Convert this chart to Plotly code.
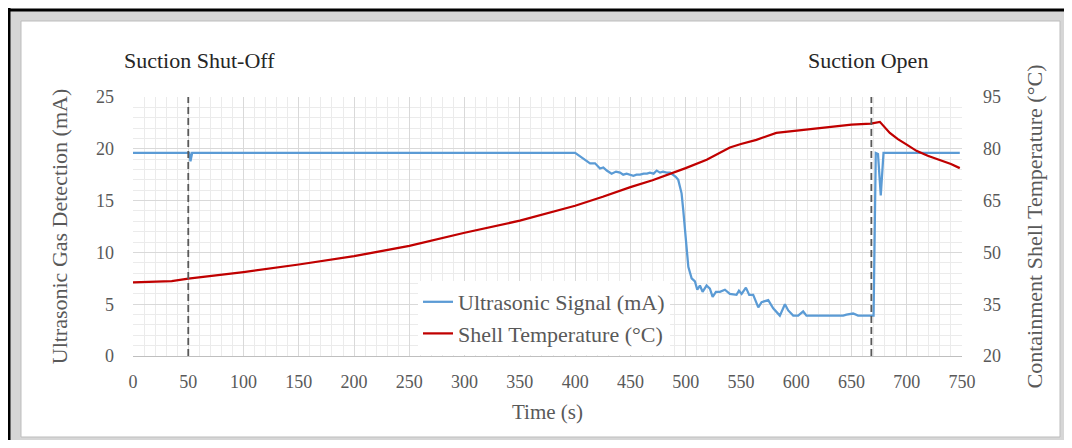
import plotly.graph_objects as go

# ---------------- data ----------------
signal_time = [0, 50, 51, 52, 53.5, 400, 401.4, 406, 410, 413.5, 418, 422.5, 425.5, 428.6, 433.0,
               437, 440.6, 443.5, 446.6, 449.5, 452.7, 455.5, 458.7, 462, 465, 467.7, 471, 473.8,
               476.8, 479.5, 482.8, 486, 488.8, 491, 493.3, 496.3, 497.8, 499.3, 500.9, 502.4,
               505.4, 508.4, 510.5, 512.9, 515.3, 518.9, 521.9, 524.4, 527.4, 531.0, 535.5,
               540.0, 546.0, 548.2, 550.6, 554.5, 557.5, 561.1, 565.7, 568.7, 574.7, 579.2,
               585.2, 589.8, 592.8, 597.3, 601.8, 606.3, 609.3, 642.5, 645.5, 651.5, 656.0,
               669.0, 670.0, 672.0, 674.0, 676.5, 679.0, 748.0]
signal_mA = [19.6, 19.6, 19.6, 18.8, 19.6, 19.6, 19.5, 19.1, 18.9, 18.6, 18.6, 18.1, 18.2, 17.9, 17.6,
             17.8, 17.7, 17.5, 17.6, 17.5, 17.4, 17.5, 17.5, 17.6, 17.6, 17.7, 17.6, 17.9,
             17.7, 17.8, 17.7, 17.7, 17.5, 17.3, 17.0, 15.7, 14.1, 12.5, 10.4, 8.6,
             7.5, 7.2, 6.4, 6.8, 6.2, 6.8, 6.5, 5.7, 6.2, 6.2, 6.4,
             6.0, 5.9, 6.3, 6.0, 6.6, 5.9, 5.9, 4.7, 5.2, 5.4, 4.6,
             3.9, 5.0, 4.4, 3.9, 3.9, 4.3, 3.9, 3.9, 4.0, 4.1, 3.9,
             3.9, 3.9, 19.6, 19.5, 15.5, 19.6, 19.6]

temp_time = [0, 20, 35, 50, 100, 150, 200, 250, 300, 350, 375, 400, 425, 450, 470, 489, 500, 519,
             540, 550, 564, 582, 600, 625, 650, 667.5, 675.7, 684.7, 692, 700, 708.8, 719, 729.9, 740, 748]
temp_C = [41.3, 41.5, 41.7, 42.4, 44.3, 46.5, 48.9, 51.9, 55.7, 59.2, 61.3, 63.5, 66.1, 68.9, 70.9,
          73.0, 74.4, 76.8, 80.4, 81.4, 82.6, 84.6, 85.2, 86.2, 87.0, 87.3, 87.8, 84.6, 82.8, 81.2,
          79.4, 78.0, 76.8, 75.6, 74.4]

event_times = [50, 668]
event_labels = ["Suction Shut-Off", "Suction Open"]

x_ticks = list(range(0, 751, 50))
y_left_ticks = [0, 5, 10, 15, 20, 25]
y_right_ticks = [20, 35, 50, 65, 80, 95]

# ---------------- layout helpers ----------------
OFF = 8                      # page body margin
PAGE_W, PAGE_H = 1072, 448
W, H = PAGE_W - 2 * OFF, PAGE_H - 2 * OFF   # figure fits inside body margins
FIG_R, FIG_B = OFF + W, OFF + H             # page px of figure right / bottom edges
L, R, T, B = 133, 962, 97, 356              # plot area in page pixels


def px_x(p):
    return (p - L) / (R - L)


def px_y(p):
    return (B - p) / (B - T)


FONT = "Liberation Serif, Times New Roman, serif"
BLUE = "#5b9bd5"
RED = "#c00000"
GRID = "#d9d9d9"
MINOR = "#ebebeb"
TXT = "#595959"

fig = go.Figure()

fig.add_trace(go.Scatter(x=signal_time, y=signal_mA, mode="lines", name="Ultrasonic Signal (mA)",
                         line=dict(color=BLUE, width=2.25), yaxis="y", legendgroup="a"))
fig.add_trace(go.Scatter(x=temp_time, y=temp_C, mode="lines", name="Shell Temperature (°C)",
                         line=dict(color=RED, width=2.25), yaxis="y2", legendgroup="b"))

# event dashed lines
for t in event_times:
    fig.add_shape(type="line", xref="x", yref="y", x0=t, x1=t, y0=0, y1=25,
                  line=dict(color="#595959", width=1.8, dash="7px,4px"), layer="above")

# frame
shapes_frame = [
    dict(type="rect", xref="paper", yref="paper", x0=px_x(9), x1=px_x(FIG_R + 2), y0=px_y(FIG_B + 2),
         y1=px_y(10), fillcolor="#d6d6d6", line=dict(width=0), layer="below"),
    dict(type="rect", xref="paper", yref="paper", x0=px_x(21), x1=px_x(FIG_R - 4), y0=px_y(FIG_B - 3),
         y1=px_y(21), fillcolor="white", line=dict(color="#bdbdbd", width=1), layer="below"),
    dict(type="line", xref="paper", yref="paper", x0=px_x(OFF), x1=px_x(FIG_R + 2), y0=px_y(10),
         y1=px_y(10), line=dict(color="black", width=3), layer="below"),
    dict(type="line", xref="paper", yref="paper", x0=px_x(9), x1=px_x(9), y0=px_y(FIG_B + 2),
         y1=px_y(OFF), line=dict(color="black", width=3), layer="below"),
]
for s in shapes_frame:
    fig.add_shape(**s)

# annotations
ann_px = [122, 806]
for lbl, xp in zip(event_labels, ann_px):
    fig.add_annotation(text=lbl, xref="paper", yref="paper", x=px_x(xp), y=px_y(60),
                       xanchor="left", yanchor="middle", showarrow=False,
                       font=dict(family=FONT, size=22, color="#262626"))

fig.update_layout(
    width=W, height=H,
    margin=dict(l=L - OFF, r=FIG_R - R, t=T - OFF, b=FIG_B - B, pad=0),
    paper_bgcolor="white",
    plot_bgcolor="rgba(0,0,0,0)",
    showlegend=True,
    legend=dict(x=px_x(418), y=px_y(281), xanchor="left", yanchor="top",
                bgcolor="white", borderwidth=0, tracegroupgap=0,
                font=dict(family=FONT, size=22, color=TXT), traceorder="grouped"),
    xaxis=dict(range=[0, 750], tickvals=x_ticks, showgrid=True, gridcolor=GRID, gridwidth=1,
               minor=dict(dtick=10, showgrid=True, gridcolor=MINOR, gridwidth=1),
               zeroline=False, showline=True, linecolor="#bfbfbf", linewidth=1,
               ticks="", ticklabelstandoff=9,
               tickfont=dict(family=FONT, size=18, color=TXT),
               title=dict(text="Time (s)", standoff=13, font=dict(family=FONT, size=21, color=TXT))),
    yaxis=dict(range=[0, 25], tickvals=y_left_ticks, showgrid=True, gridcolor=GRID, gridwidth=1,
               minor=dict(dtick=1, showgrid=True, gridcolor=MINOR, gridwidth=1),
               zeroline=False, showline=False, ticks="", ticklabelstandoff=18,
               tickfont=dict(family=FONT, size=18, color=TXT),
               title=dict(text="Ultrasonic Gas Detection (mA)", standoff=22,
                          font=dict(family=FONT, size=22, color=TXT))),
    yaxis2=dict(range=[20, 95], tickvals=y_right_ticks, overlaying="y", side="right", showgrid=False,
                zeroline=False, showline=False, ticks="", ticklabelstandoff=20,
                tickfont=dict(family=FONT, size=18, color=TXT),
                title=dict(text="Containment Shell Temperature (°C)", standoff=26,
                           font=dict(family=FONT, size=22, color=TXT))),
)

fig.write_html("out.html")
